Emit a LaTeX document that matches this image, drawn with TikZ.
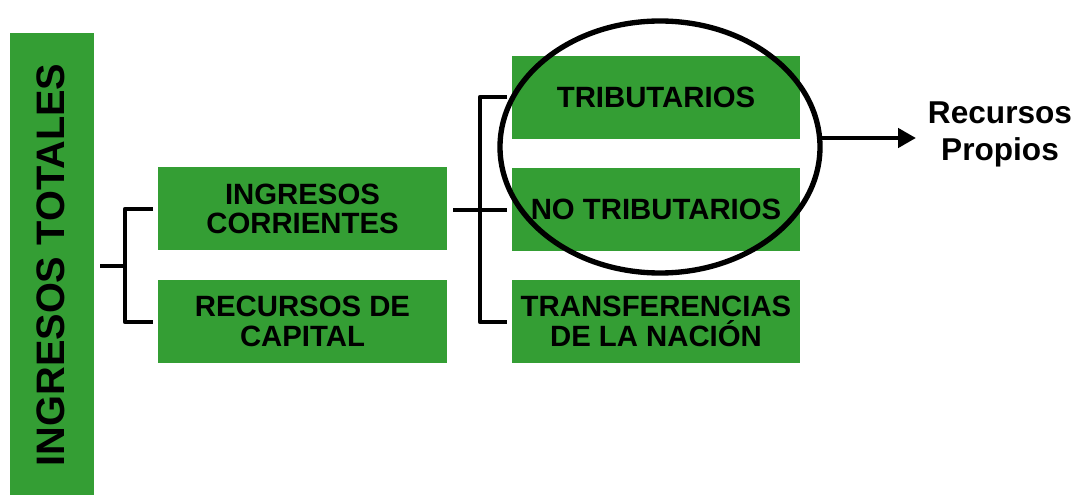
\documentclass[tikz,border=0pt]{standalone}
\usepackage{fontspec}
\setmainfont{Liberation Sans}
\usetikzlibrary{arrows.meta}
\definecolor{boxgreen}{RGB}{52,158,52}
\begin{document}
\begin{tikzpicture}[x=0.75pt,y=-0.75pt,
  gbox/.style={fill=boxgreen, draw=none, inner sep=0pt, minimum width=289*0.75pt,
    minimum height=83*0.75pt, align=center,
    font=\fontsize{22pt}{22pt}\selectfont\bfseries},
  conn/.style={line width=3.5pt, line join=round, line cap=butt},
]
\useasboundingbox (0,0) rectangle (1082,495);
% vertical bar
\node[fill=boxgreen, inner sep=0pt, minimum width=84*0.75pt, minimum height=462*0.75pt,
  anchor=north west] (bar) at (10,33) {};
\node[rotate=90, font=\fontsize{29.8pt}{30pt}\selectfont\bfseries, inner sep=0pt]
  (bartext) at (51,265) {INGRESOS TOTALES};
% boxes
\node[gbox] (ic) at (302.5,209) {INGRESOS\\CORRIENTES};
\node[gbox] (rc) at (302.5,321.5) {RECURSOS DE\\CAPITAL};
\node[gbox, minimum width=288*0.75pt] (tr) at (656,97.5) {TRIBUTARIOS};
\node[gbox, minimum width=288*0.75pt] (nt) at (656,209.5) {NO TRIBUTARIOS};
\node[gbox, minimum width=288*0.75pt] (tn) at (656,321.5) {TRANSFERENCIAS\\DE LA NACIÓN};
% bracket 1
\coordinate (b1s) at (100,266);
\coordinate (b1j) at (125,266);
\coordinate (b1t) at (153,209);
\coordinate (b1b) at (153,322);
\draw[conn] (b1s) -- (b1j);
\draw[conn] (b1t) -- (125,209) -- (125,322) -- (b1b);
% bracket 2
\coordinate (b2s) at (453,210);
\coordinate (b2j) at (480,210);
\coordinate (b2t) at (507,97);
\coordinate (b2m) at (507,210);
\coordinate (b2b) at (507,322);
\draw[conn] (b2s) -- (b2m);
\draw[conn] (b2t) -- (480,97) -- (480,322) -- (b2b);
% ellipse
\draw[line width=4pt] (660,147) ellipse [x radius=160, y radius=126];
\coordinate (ellr) at (820,138);
% label
\node[align=center, font=\fontsize{23.7pt}{27.75pt}\selectfont\bfseries, inner sep=0pt]
  (rp) at (1000,134) {Recursos\\Propios};
\draw[line width=3.5pt, -{Triangle[length=18*0.75pt, width=19*0.75pt]}] (ellr) -- (916,138);
\end{tikzpicture}
\end{document}
